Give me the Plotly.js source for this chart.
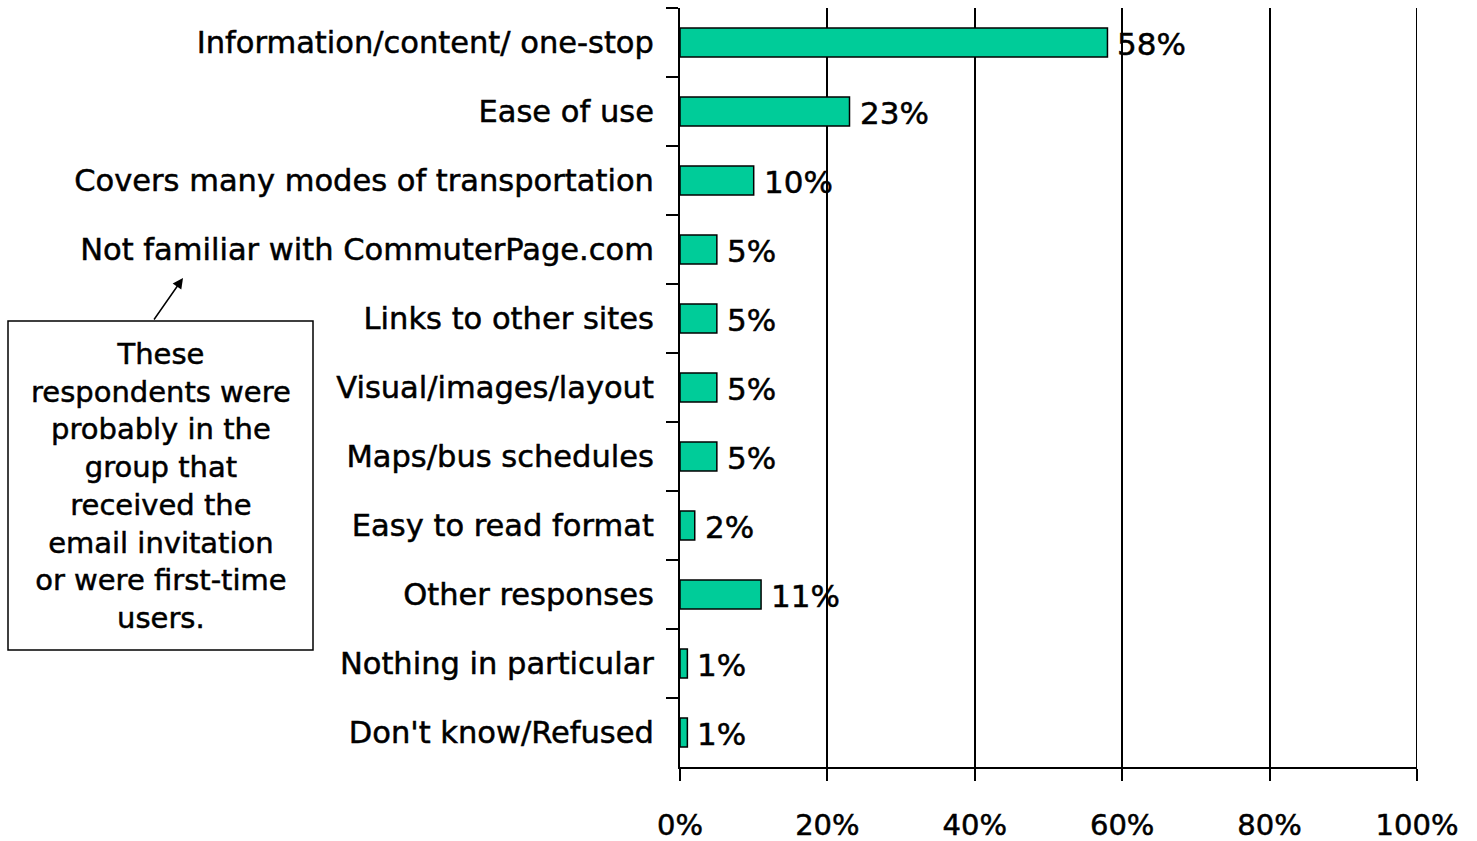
<!DOCTYPE html>
<html>
<head>
<meta charset="utf-8">
<script src="https://cdn.plot.ly/plotly-3.0.1.min.js"></script>
<style>
html,body{margin:0;padding:0;background:#fff;}
#chart{width:1477px;height:841px;}
#chart text{stroke:#000;stroke-width:0.5px;}
</style>
</head>
<body>
<div id="chart"></div>
<script>
var categories = [
  "Information/content/ one-stop",
  "Ease of use",
  "Covers many modes of transportation",
  "Not familiar with CommuterPage.com",
  "Links to other sites",
  "Visual/images/layout",
  "Maps/bus schedules",
  "Easy to read format",
  "Other responses",
  "Nothing in particular",
  "Don't know/Refused"
];
var values = [58, 23, 10, 5, 5, 5, 5, 2, 11, 1, 1];
var valueLabels = ["58%", "23%", "10%", "5%", "5%", "5%", "5%", "2%", "11%", "1%", "1%"];
var xTickVals = [0, 20, 40, 60, 80, 100];
var xTickText = ["0%", "20%", "40%", "60%", "80%", "100%"];
var noteText = "These<br>respondents were<br>probably in the<br>group that<br>received the<br>email invitation<br>or were first-time<br>users.";

var FONT = "DejaVu Sans, Verdana, sans-serif";

var trace = {
  type: "bar",
  orientation: "h",
  x: values,
  y: categories,
  width: 0.42,
  marker: {color: "#00CC99", line: {color: "#000000", width: 1.5}},
  hoverinfo: "none"
};

var valueAnnotations = values.map(function(v, i){
  return {
    xref: "x", yref: "y", x: v, y: categories[i],
    text: valueLabels[i], showarrow: false,
    xanchor: "left", yanchor: "middle", xshift: 8, yshift: -1,
    font: {family: FONT, size: 31, color: "#000"}
  };
});

var xMax = xTickVals[xTickVals.length - 1];

var layout = {
  width: 1477,
  height: 841,
  margin: {l: 680, r: 60, t: 8, b: 74},
  paper_bgcolor: "#fff",
  plot_bgcolor: "#fff",
  showlegend: false,
  xaxis: {
    range: [0, xMax],
    tickvals: xTickVals,
    ticktext: xTickText,
    showgrid: true,
    gridcolor: "#000",
    gridwidth: 2,
    zeroline: false,
    showline: true,
    linecolor: "#000",
    linewidth: 2,
    ticks: "outside",
    ticklen: 12,
    tickwidth: 2,
    tickcolor: "#000",
    ticklabelstandoff: 19,
    tickfont: {family: FONT, size: 29, color: "#000"},
    fixedrange: true
  },
  yaxis: {
    type: "category",
    autorange: "reversed",
    tickson: "boundaries",
    showgrid: false,
    zeroline: false,
    showline: true,
    linecolor: "#000",
    linewidth: 2,
    ticks: "outside",
    ticklen: 12,
    tickwidth: 1.5,
    tickcolor: "#000",
    ticklabelstandoff: 18,
    tickfont: {family: FONT, size: 30.5, color: "#000"},
    fixedrange: true
  },
  shapes: [
    {type: "line", xref: "x", yref: "paper", x0: xMax, x1: xMax, y0: 0, y1: 1,
     line: {color: "#000", width: 2}, layer: "below"},
    {type: "rect", xref: "paper", yref: "paper",
     x0: -672/737, x1: -367/737, y0: (767-650)/759, y1: (767-321)/759,
     line: {color: "#000", width: 1.5}, fillcolor: "#fff"}
  ],
  annotations: valueAnnotations.concat([
    {xref: "paper", yref: "paper",
     x: (160.5-680)/737, y: (767-486)/759,
     text: noteText, showarrow: false,
     font: {family: FONT, size: 29, color: "#000"},
     align: "center", xanchor: "center", yanchor: "middle"},
    {xref: "paper", yref: "paper", axref: "paper", ayref: "paper",
     x: (183-680)/737, y: (767-278)/759,
     ax: (153-680)/737, ay: (767-321)/759,
     text: "", showarrow: true, arrowhead: 2, arrowsize: 1.4, arrowwidth: 1.5, arrowcolor: "#000"}
  ])
};

Plotly.newPlot("chart", [trace], layout, {displayModeBar: false, staticPlot: true});
</script>
</body>
</html>
